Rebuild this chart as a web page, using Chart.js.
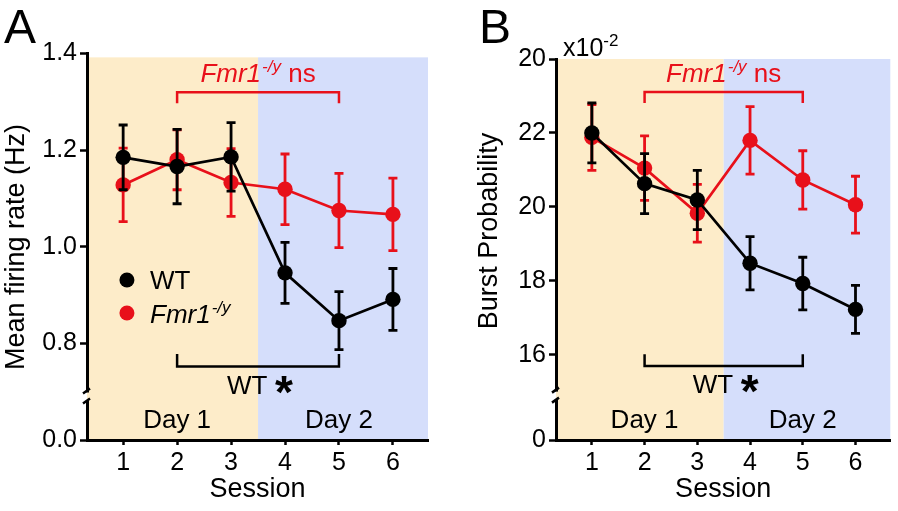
<!DOCTYPE html>
<html>
<head>
<meta charset="utf-8">
<script src="https://cdn.jsdelivr.net/npm/chart.js@4.4.1/dist/chart.umd.min.js"></script>
<style>
  html, body { margin: 0; padding: 0; background: #fff; }
  #wrap { position: relative; width: 898px; height: 511px; }
  .panel { position: absolute; top: 0; width: 449px; height: 511px; }
</style>
</head>
<body>
<div id="wrap">
  <div class="panel" style="left:0"><canvas id="chartA" width="449" height="511"></canvas></div>
  <div class="panel" style="left:449px"><canvas id="chartB" width="449" height="511"></canvas></div>
</div>
<script>
// Sessions on the x axis, day split between session 3 and 4
const sessions = [1, 2, 3, 4, 5, 6];
const dayLabels = ['Day 1', 'Day 2'];
const dayLabelAt = [2, 5];
const dayBoundary = 3.5;

// Panel A: mean firing rate (Hz), mean +/- SEM
const rateWT = [1.185, 1.166, 1.186, 0.946, 0.847, 0.891];
const rateWTErr = [0.067, 0.077, 0.071, 0.063, 0.060, 0.064];
const rateKO = [1.128, 1.180, 1.133, 1.119, 1.075, 1.067];
const rateKOErr = [0.076, 0.062, 0.070, 0.073, 0.077, 0.075];
const rateTicks = [0.6, 0.8, 1.0, 1.2, 1.4];
const rateTickLabels = ['0.0', '0.8', '1.0', '1.2', '1.4'];

// Panel B: burst probability (x10^-2), mean +/- SEM
const burstWT = [22.00, 20.63, 20.19, 18.48, 17.93, 17.23];
const burstWTErr = [0.81, 0.81, 0.80, 0.72, 0.71, 0.65];
const burstKO = [21.88, 21.05, 19.83, 21.80, 20.73, 20.06];
const burstKOErr = [0.89, 0.87, 0.78, 0.91, 0.79, 0.77];
const burstTicks = [13.7, 16, 18, 20, 22, 24];
const burstTickLabels = ['0', '16', '18', '20', '22', '20'];

const FONT = '"Liberation Sans", Arial, Helvetica, sans-serif';
const BLACK = '#000000';
const RED = '#e8101a';
const ORANGE = '#fdecc9';
const BLUE = '#d5defb';

// "Fmr1" in italics with a "-/y" superscript, then optional plain text
function drawFmr(ctx, x, y, size, tail, color) {
  ctx.fillStyle = color;
  ctx.textAlign = 'left';
  ctx.textBaseline = 'alphabetic';
  ctx.font = `italic ${size}px ${FONT}`;
  ctx.fillText('Fmr1', x, y);
  x += ctx.measureText('Fmr1').width + 1;
  ctx.font = `italic ${Math.round(size * 0.66)}px ${FONT}`;
  ctx.fillText('-/y', x, y - size * 0.4);
  x += ctx.measureText('-/y').width;
  if (tail) {
    ctx.font = `${size}px ${FONT}`;
    ctx.fillText(tail, x, y);
  }
}

function fmrWidth(ctx, size, tail) {
  ctx.font = `italic ${size}px ${FONT}`;
  let w = ctx.measureText('Fmr1').width + 1;
  ctx.font = `italic ${Math.round(size * 0.66)}px ${FONT}`;
  w += ctx.measureText('-/y').width;
  ctx.font = `${size}px ${FONT}`;
  if (tail) w += ctx.measureText(tail).width;
  return w;
}

// error bars go under each dataset's own line and dots
const errorBars = {
  id: 'errorBars',
  beforeDatasetDraw(chart, args) {
    const ds = chart.data.datasets[args.index];
    const y = chart.scales.y;
    const ctx = chart.ctx;
    ctx.save();
    ctx.strokeStyle = ds.borderColor;
    ctx.lineWidth = 2.8;
    args.meta.data.forEach((pt, i) => {
      const v = ds.data[i].y, e = ds.err[i];
      const top = y.getPixelForValue(v + e);
      const bot = y.getPixelForValue(v - e);
      ctx.beginPath();
      ctx.moveTo(pt.x, top); ctx.lineTo(pt.x, bot);
      ctx.moveTo(pt.x - 4.5, top); ctx.lineTo(pt.x + 4.5, top);
      ctx.moveTo(pt.x - 4.5, bot); ctx.lineTo(pt.x + 4.5, bot);
      ctx.stroke();
    });
    ctx.restore();
  }
};

const panelDecor = {
  id: 'panelDecor',
  beforeDraw(chart, args, o) {
    const { ctx, chartArea: a, scales: { x, y } } = chart;
    const mid = x.getPixelForValue(dayBoundary);
    const top = y.getPixelForValue(o.shadeTop);
    ctx.save();
    ctx.fillStyle = ORANGE;
    ctx.fillRect(a.left, top, mid - a.left, a.bottom - top);
    ctx.fillStyle = BLUE;
    ctx.fillRect(mid, top, a.right - mid, a.bottom - top);
    ctx.restore();
  },
  afterDraw(chart, args, o) {
    const { ctx, chartArea: a, scales: { x, y } } = chart;
    ctx.save();

    // axis break on the y axis
    const ax = a.left, by = y.getPixelForValue(o.breakAt);
    ctx.fillStyle = '#ffffff';
    ctx.fillRect(ax - 3, by - 4, 3, 8);
    ctx.fillStyle = ORANGE;
    ctx.fillRect(ax, by - 4, 2, 8);
    ctx.strokeStyle = BLACK;
    ctx.lineWidth = 2.5;
    ctx.beginPath();
    ctx.moveTo(ax - 4, by - 3); ctx.lineTo(ax + 3, by - 8);
    ctx.moveTo(ax - 4, by + 7); ctx.lineTo(ax + 3, by + 2);
    ctx.stroke();

    // comparison brackets, session 2 vs session 5
    const x1 = x.getPixelForValue(2), x2 = x.getPixelForValue(5);
    const cx = x.getPixelForValue(dayBoundary);
    const bracket = (level, tip, color) => {
      const ly = y.getPixelForValue(level), ty = y.getPixelForValue(tip);
      ctx.strokeStyle = color;
      ctx.lineWidth = 2.5;
      ctx.beginPath();
      ctx.moveTo(x1, ty); ctx.lineTo(x1, ly); ctx.lineTo(x2, ly); ctx.lineTo(x2, ty);
      ctx.stroke();
      return ly;
    };
    const ry = bracket(o.redBracket[0], o.redBracket[1], RED);
    const w = fmrWidth(ctx, 26, ' ns');
    drawFmr(ctx, cx - w / 2, ry - 10, 26, ' ns', RED);

    const ky = bracket(o.blackBracket[0], o.blackBracket[1], BLACK);
    ctx.fillStyle = BLACK;
    ctx.textBaseline = 'alphabetic';
    ctx.textAlign = 'left';
    ctx.font = `26px ${FONT}`;
    ctx.fillText('WT', cx - 31, ky + 27);
    ctx.textAlign = 'center';
    ctx.font = `bold 46px ${FONT}`;
    ctx.fillText('*', cx + 26, ky + 41);

    // day labels
    ctx.font = `26px ${FONT}`;
    dayLabels.forEach((t, i) => ctx.fillText(t, x.getPixelForValue(dayLabelAt[i]), 428));

    // y axis title
    ctx.save();
    ctx.translate(o.titleX, o.titleY);
    ctx.rotate(-Math.PI / 2);
    ctx.textBaseline = 'middle';
    ctx.textAlign = 'center';
    ctx.font = `27px ${FONT}`;
    ctx.fillText(o.yTitle, 0, 0);
    ctx.restore();

    // panel letter
    ctx.textAlign = 'left';
    ctx.textBaseline = 'alphabetic';
    ctx.font = `48px ${FONT}`;
    ctx.fillText(o.letter, o.letterX, 43);

    if (o.scaleNote) {
      ctx.font = `25px ${FONT}`;
      ctx.fillText('x10', a.left + 7, 56);
      const nx = a.left + 7 + ctx.measureText('x10').width;
      ctx.font = `17px ${FONT}`;
      ctx.fillText('-2', nx, 46);
    }

    if (o.legend) {
      const ds = chart.data.datasets;
      const lx = x.getPixelForValue(1.07);
      [[280, 289], [313, 323]].forEach(([dy, ty], i) => {
        ctx.fillStyle = ds[i].backgroundColor;
        ctx.beginPath();
        ctx.arc(lx, dy, 7.5, 0, Math.PI * 2);
        ctx.fill();
      });
      ctx.fillStyle = BLACK;
      ctx.font = `26px ${FONT}`;
      ctx.fillText(ds[0].label, 150, 289);
      drawFmr(ctx, 150, 323, 26, '', BLACK);
    }
    ctx.restore();
  }
};

function makePanel(id, cfg) {
  const series = (vals, errs, label, color) => ({
    label: label,
    data: sessions.map((s, i) => ({ x: s, y: vals[i] })),
    err: errs,
    borderColor: color,
    backgroundColor: color,
    borderWidth: 2.7,
    pointRadius: 7.7,
    pointHoverRadius: 7.7,
    pointBorderWidth: 0,
    tension: 0,
    clip: false
  });
  return new Chart(document.getElementById(id), {
    type: 'line',
    data: {
      datasets: [
        series(cfg.wt, cfg.wtErr, 'WT', BLACK),
        series(cfg.ko, cfg.koErr, 'Fmr1-/y', RED)
      ]
    },
    options: {
      responsive: false,
      animation: false,
      events: [],
      layout: { padding: cfg.padding },
      scales: {
        x: {
          type: 'linear',
          min: cfg.xMin,
          max: cfg.xMax,
          afterFit: s => { s.height = 71; },
          afterBuildTicks: s => { s.ticks = sessions.map(v => ({ value: v })); },
          grid: { drawOnChartArea: false, tickLength: 5, tickWidth: 2.5, tickColor: BLACK },
          border: { display: true, color: BLACK, width: 3 },
          ticks: { color: BLACK, padding: 3, font: { family: FONT, size: 25 }, callback: v => String(v) },
          title: { display: true, text: 'Session', color: BLACK, font: { family: FONT, size: 27 }, padding: { top: 0, bottom: 5 } }
        },
        y: {
          type: 'linear',
          min: cfg.yMin,
          max: cfg.yMax,
          afterFit: s => { s.width = cfg.yWidth; },
          afterBuildTicks: s => { s.ticks = cfg.ticks.map(v => ({ value: v })); },
          grid: { drawOnChartArea: false, tickLength: 7, tickWidth: 2.5, tickColor: BLACK },
          border: { display: true, color: BLACK, width: 3 },
          ticks: { color: BLACK, padding: 3, font: { family: FONT, size: 25 }, callback: (v, i) => cfg.tickLabels[i] }
        }
      },
      plugins: {
        legend: { display: false },
        tooltip: { enabled: false },
        panelDecor: cfg.decor
      }
    },
    plugins: [errorBars, panelDecor]
  });
}

makePanel('chartA', {
  wt: rateWT, wtErr: rateWTErr, ko: rateKO, koErr: rateKOErr,
  ticks: rateTicks, tickLabels: rateTickLabels,
  xMin: 0.33, xMax: 6.65, yMin: 0.6, yMax: 1.4,
  yWidth: 87,
  padding: { left: 0, top: 53.5, right: 21, bottom: 0 },
  decor: {
    shadeTop: 1.392, breakAt: 0.69,
    redBracket: [1.32, 1.297], blackBracket: [0.752, 0.778],
    yTitle: 'Mean firing rate (Hz)', titleX: 17, titleY: 247,
    letter: 'A', letterX: 4, legend: true, scaleNote: false
  }
});

makePanel('chartB', {
  wt: burstWT, wtErr: burstWTErr, ko: burstKO, koErr: burstKOErr,
  ticks: burstTicks, tickLabels: burstTickLabels,
  xMin: 0.32, xMax: 6.66, yMin: 13.7, yMax: 24,
  yWidth: 107,
  padding: { left: 0, top: 59, right: 2, bottom: 0 },
  decor: {
    shadeTop: 24, breakAt: 14.9,
    redBracket: [23.11, 22.81], blackBracket: [15.70, 16.02],
    yTitle: 'Burst Probability', titleX: 41, titleY: 231,
    letter: 'B', letterX: 30, legend: false, scaleNote: true
  }
});
</script>
</body>
</html>
